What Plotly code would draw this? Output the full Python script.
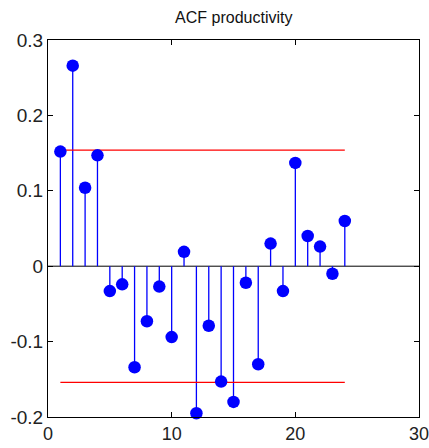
import plotly.graph_objects as go

lags = list(range(1, 25))
acf = [0.152, 0.266, 0.104, 0.147, -0.033, -0.024, -0.134, -0.073, -0.027, -0.094,
       0.019, -0.195, -0.079, -0.153, -0.180, -0.022, -0.130, 0.030, -0.033, 0.137,
       0.040, 0.026, -0.010, 0.060]
bound = 0.154
x_ticks = [0, 10, 20, 30]
y_ticks = [-0.2, -0.1, 0, 0.1, 0.2, 0.3]
y_tick_text = ["-0.2", "-0.1", "0", "0.1", "0.2", "0.3"]

stem_x, stem_y = [], []
for lag, v in zip(lags, acf):
    stem_x += [lag, lag, None]
    stem_y += [0, v, None]

fig = go.Figure()
fig.add_trace(go.Scatter(x=[0, 30], y=[0, 0], mode="lines",
                         line=dict(color="black", width=1), hoverinfo="skip"))
fig.add_trace(go.Scatter(x=stem_x, y=stem_y, mode="lines",
                         line=dict(color="#0000FF", width=1.3), hoverinfo="skip"))
fig.add_trace(go.Scatter(x=[lags[0], lags[-1]], y=[bound, bound], mode="lines",
                         line=dict(color="#FF0000", width=1.3)))
fig.add_trace(go.Scatter(x=[lags[0], lags[-1]], y=[-bound, -bound], mode="lines",
                         line=dict(color="#FF0000", width=1.3)))
fig.add_trace(go.Scatter(x=lags, y=acf, mode="markers", cliponaxis=False,
                         marker=dict(color="#0000FF", size=12.5, symbol="circle",
                                     line=dict(width=0))))

fig.update_layout(
    width=429, height=448,
    margin=dict(l=48, r=10, t=40, b=31, autoexpand=False),
    paper_bgcolor="white", plot_bgcolor="white",
    showlegend=False,
    font=dict(family="Liberation Sans, Arial, sans-serif", color="#222222"),
    title=dict(text="ACF productivity", x=0.545, xanchor="center",
               y=1 - 23 / 448, yanchor="bottom", font=dict(size=16, color="#111111")),
)
fig.update_xaxes(range=[0, 30], tickvals=x_ticks, ticks="inside", ticklen=5,
                 tickcolor="black", showline=True, linecolor="black", linewidth=1,
                 mirror="ticks", showgrid=False, zeroline=False, automargin=False,
                 ticklabeloverflow="allow", tickfont=dict(size=18), fixedrange=True)
fig.update_yaxes(range=[-0.2, 0.3], tickvals=y_ticks, ticktext=y_tick_text,
                 ticks="inside", ticklen=5, tickcolor="black", showline=True,
                 linecolor="black", linewidth=1, mirror="ticks", showgrid=False,
                 zeroline=False, automargin=False, ticklabeloverflow="allow",
                 tickfont=dict(size=19), fixedrange=True)

fig.write_html("out.html", config={"displayModeBar": False})
